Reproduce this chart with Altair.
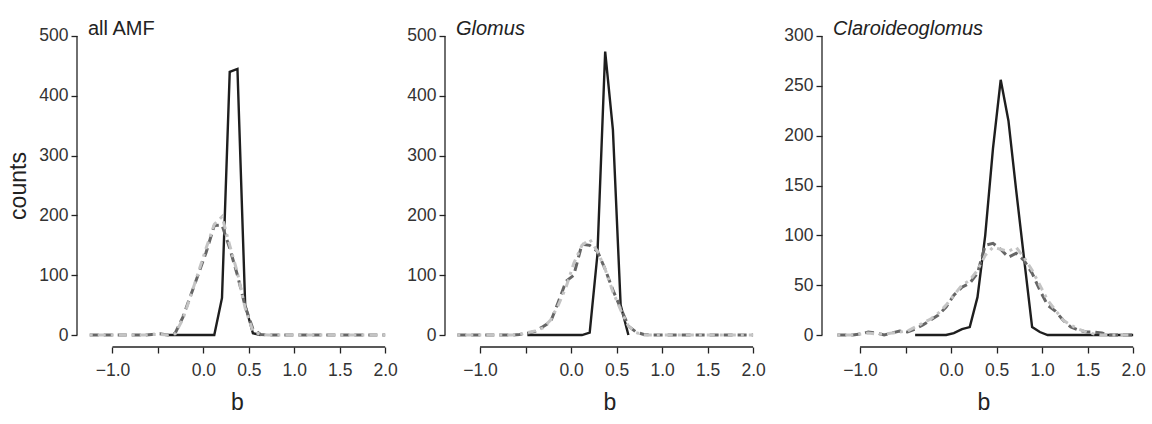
import altair as alt
import pandas as pd

# bin centres (b) shared by all panels
b_vals = [-1.25, -1.165, -1.08, -0.995, -0.91, -0.82, -0.735, -0.65, -0.565, -0.48,
          -0.395, -0.31, -0.225, -0.14, -0.055, 0.03, 0.12, 0.205, 0.29, 0.375,
          0.46, 0.545, 0.63, 0.715, 0.8, 0.89, 0.975, 1.06, 1.145, 1.23,
          1.315, 1.4, 1.485, 1.57, 1.655, 1.74, 1.825, 1.915, 2.0]

N = None
# ---- all AMF ----
amf_solid = [N, N, N, N, N, N, N, N, N, N,
             0, 0, 0, 0, 0, 0, 0, 62, 440, 445,
             50, 3, 0, N, N, N, N, N, N, N,
             N, N, N, N, N, N, N, N, N]
amf_dashed = [0, 0, 0, 0, 0, 0, 0, 0, 1, 2,
              0, 3, 30, 66, 102, 138, 183, 184, 145, 100,
              48, 10, 1, 0, 0, 0, 0, 0, 0, 0,
              0, 0, 0, 0, 0, 0, 0, 0, 0]
amf_light = [0, 0, 0, 0, 0, 0, 0, 0, 1, 1,
             0, 2, 27, 65, 105, 145, 185, 198, 150, 104,
             45, 6, 1, 0, 0, 0, 0, 0, 0, 0,
             0, 0, 0, 0, 0, 0, 0, 0, 0]
# ---- Glomus ----
glo_solid = [N, N, N, N, N, N, N, N, N, 0,
             0, 0, 0, 0, 0, 0, 0, 4, 135, 474,
             343, 50, 0, N, N, N, N, N, N, N,
             N, N, N, N, N, N, N, N, N]
glo_dashed = [0, 0, 0, 0, 0, 0, 0, 0, 1, 3,
              6, 14, 22, 55, 90, 100, 152, 150, 140, 110,
              75, 45, 15, 5, 1, 0, 0, 0, 0, 0,
              0, 0, 0, 0, 0, 0, 0, 0, 0]
glo_light = [0, 0, 0, 0, 0, 0, 0, 0, 1, 4,
             7, 12, 25, 50, 80, 120, 150, 160, 140, 110,
             72, 42, 15, 4, 0, 0, 0, 0, 0, 0,
             0, 0, 0, 0, 0, 0, 0, 0, 0]
# ---- Claroideoglomus ----
cla_solid = [N, N, N, N, N, N, N, N, N, N,
             0, 0, 0, 0, 0, 2, 6, 8, 38, 100,
             187, 256, 215, 145, 78, 8, 3, 0, 0, 0,
             0, 0, 0, 0, 0, 0, 0, 0, 0]
cla_dashed = [0, 0, 0, 1, 3, 2, 0, 2, 4, 3,
              6, 10, 15, 20, 28, 40, 48, 52, 62, 90,
              92, 86, 78, 82, 75, 62, 45, 30, 24, 15,
              8, 5, 3, 3, 2, 0, 0, 0, 0]
cla_light = [0, 0, 0, 1, 2, 1, 1, 2, 3, 4,
             8, 12, 16, 22, 30, 40, 50, 55, 65, 80,
             88, 86, 84, 88, 78, 65, 50, 35, 25, 15,
             10, 6, 3, 1, 0, 0, 0, 0, 0]

panel_titles = ["all AMF", "Glomus", "Claroideoglomus"]
title_styles = ["normal", "italic", "italic"]
x_ticks = [-1.0, -0.5, 0.0, 0.5, 1.0, 1.5, 2.0]
y_ticks_500 = [0, 100, 200, 300, 400, 500]
y_ticks_300 = [0, 50, 100, 150, 200, 250, 300]

FONT = "Liberation Sans"


def make_df(solid, dashed, light):
    rows = []
    for name, vals in (("solid", solid), ("dashed", dashed), ("light", light)):
        for xv, yv in zip(b_vals, vals):
            if yv is not None:
                rows.append({"b": xv, "counts": yv, "series": name})
    return pd.DataFrame(rows)


def panel(solid, dashed, light, title, style, yticks, xdom, width, ytitle):
    ymax = yticks[-1]
    ypad = ymax * 0.04
    xs = alt.Scale(domain=xdom, nice=False, zero=False)
    ys = alt.Scale(domain=[-ypad, ymax + ypad], nice=False, zero=False)
    xaxis = alt.Axis(values=x_ticks, domain=False, grid=False, tickSize=6,
                     tickColor="#222222", tickWidth=1.3,
                     labelExpr="datum.value == -0.5 ? '' : format(datum.value, '.1f')",
                     labelFlush=False, labelOverlap=False, labelPadding=8,
                     labelFont=FONT, labelFontSize=17.5, labelColor="#333333",
                     title="b", titleFont=FONT, titleFontSize=23,
                     titleFontWeight="normal", titleColor="#222222", titlePadding=13)
    yaxis = alt.Axis(values=yticks, domain=False, grid=False, tickSize=6,
                     tickColor="#222222", tickWidth=1.3,
                     labelFont=FONT, labelFontSize=17.5, labelColor="#333333",
                     labelPadding=3, labelOverlap=False, labelFlush=False,
                     title=ytitle, titleFont=FONT, titleFontSize=23,
                     titleFontWeight="normal", titleColor="#222222", titlePadding=8)
    df = make_df(solid, dashed, light)
    X = alt.X("b:Q", scale=xs, axis=xaxis)
    Y = alt.Y("counts:Q", scale=ys, axis=yaxis)

    xline = pd.DataFrame({"b": [x_ticks[0]], "b2": [x_ticks[-1]], "counts": [-ypad]})
    yline = pd.DataFrame({"counts": [yticks[0]], "c2": [yticks[-1]]})

    r1 = alt.Chart(xline).mark_rule(color="#222222", strokeWidth=1.3).encode(
        x=X, x2="b2:Q", y=Y)
    r2 = alt.Chart(yline).mark_rule(color="#222222", strokeWidth=1.3).encode(
        x=alt.value(0), y=Y, y2="c2:Q")

    base = alt.Chart(df)
    l_solid = base.transform_filter(alt.datum.series == "solid").mark_line(
        color="#1e1e1e", strokeWidth=2.4).encode(x=X, y=Y)
    l_dash = base.transform_filter(alt.datum.series == "dashed").mark_line(
        color="#666666", strokeWidth=3, strokeDash=[9, 5]).encode(x=X, y=Y)
    l_light = base.transform_filter(alt.datum.series == "light").mark_line(
        color="#c4c4c4", strokeWidth=3, strokeDash=[3, 5, 8, 5]).encode(x=X, y=Y)

    return alt.layer(r1, r2, l_solid, l_dash, l_light).properties(
        width=width, height=323,
        title=alt.TitleParams(title, anchor="start", frame="group", font=FONT,
                              fontSize=20, fontStyle=style, fontWeight="normal",
                              color="#222222", offset=-15, dx=11),
    )


p1 = panel(amf_solid, amf_dashed, amf_light, panel_titles[0], title_styles[0],
           y_ticks_500, [-1.39, 2.13], 320, "counts")
p2 = panel(glo_solid, glo_dashed, glo_light, panel_titles[1], title_styles[1],
           y_ticks_500, [-1.385, 2.23], 329, None)
p3 = panel(cla_solid, cla_dashed, cla_light, panel_titles[2], title_styles[2],
           y_ticks_300, [-1.418, 2.13], 323, None)

chart = alt.hconcat(p1, p2, p3, spacing=48, bounds="flush").configure_view(
    stroke=None).properties(
    padding={"left": 7, "top": 19, "right": 6, "bottom": 5},
    background="white")

chart.save("out.html", embed_options={"renderer": "svg", "actions": False})
